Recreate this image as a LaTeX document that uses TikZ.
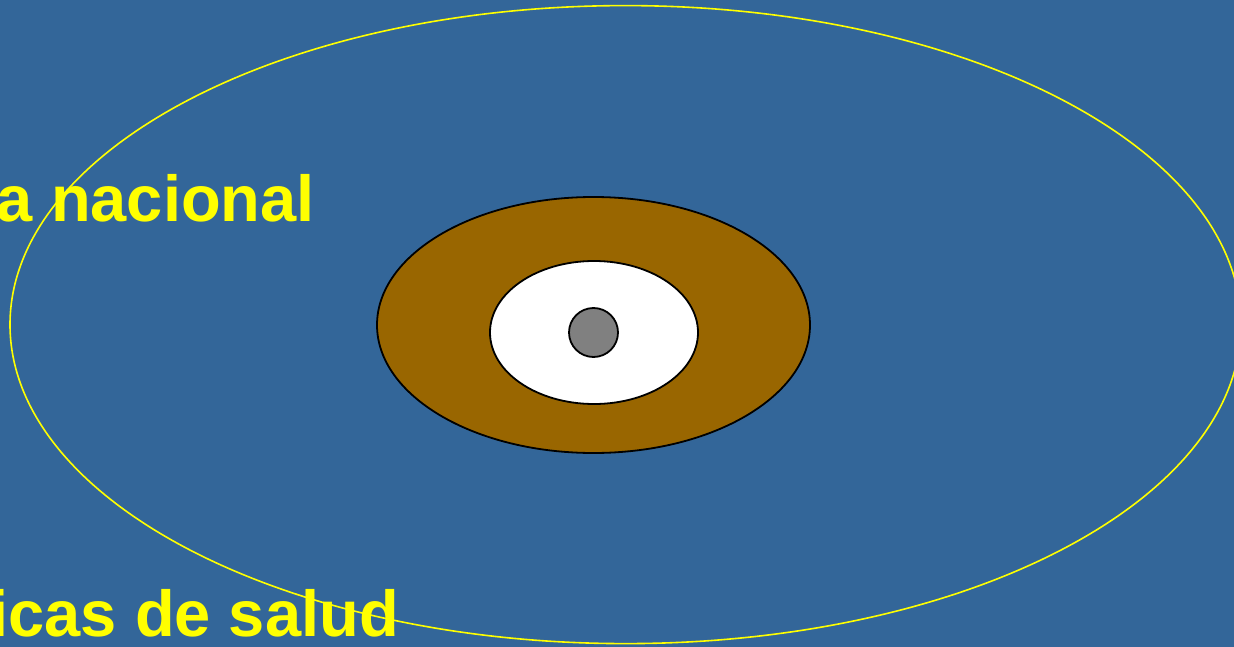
\documentclass[tikz,border=0pt]{standalone}
\usepackage{fontspec}
\setmainfont{Liberation Sans}
\definecolor{bgblue}{RGB}{51,102,153}
\definecolor{brownring}{RGB}{153,102,0}
\definecolor{coregray}{RGB}{128,128,128}
\definecolor{txtyellow}{RGB}{255,255,0}
\tikzset{
  ring/.style={draw=black, line width=1.8pt, inner sep=0pt, ellipse},
  label/.style={text=txtyellow, font=\bfseries\fontsize{65}{70}\selectfont, inner sep=0pt}
}
\usetikzlibrary{shapes.geometric}
\begin{document}
\begin{tikzpicture}[x=1pt,y=-1pt]
\fill[bgblue] (0,0) rectangle (1234,647);
\useasboundingbox (0,0) rectangle (1234,647);
\node[label, anchor=base east] (t1) at (315,222) {a nacional};
\node[label, anchor=base east] (t2) at (399,636) {icas de salud};
\node[draw=txtyellow, line width=1.6pt, ellipse, inner sep=0pt, minimum width=1231pt, minimum height=638pt] (outer) at (625.5,324.6) {};
\node[ring, fill=brownring, minimum width=433pt, minimum height=256pt] (brown) at (593.5,325) {};
\node[ring, fill=white, minimum width=208pt, minimum height=143pt] (white) at (594,332.5) {};
\node[ring, fill=coregray, circle, minimum size=49pt] (core) at (593.5,332.5) {};
\end{tikzpicture}
\end{document}
